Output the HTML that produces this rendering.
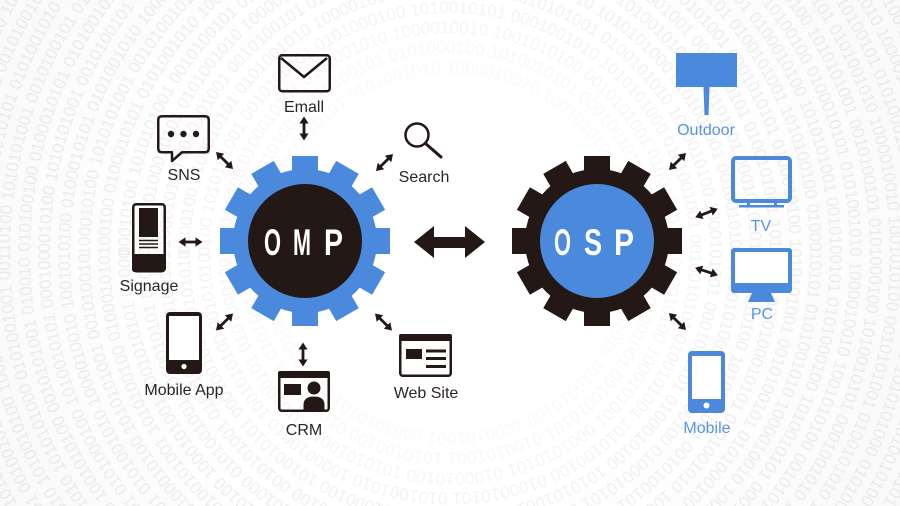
<!DOCTYPE html>
<html><head><meta charset="utf-8">
<style>
html,body{margin:0;padding:0;background:#fff;width:900px;height:506px;overflow:hidden;}
svg{display:block;overflow:hidden;}
.lbl{font-family:"Liberation Sans",sans-serif;font-size:16px;fill:#2b2522;text-anchor:middle;}
.blbl{font-family:"Liberation Sans",sans-serif;font-size:16px;fill:#5a93e3;text-anchor:middle;}
.bin{font-family:"Liberation Sans",sans-serif;font-size:17px;}
.gt{font-family:"Liberation Sans",sans-serif;font-size:37px;font-weight:bold;fill:#fff;}
</style></head>
<body>
<svg width="900" height="506" viewBox="0 0 900 506" xmlns="http://www.w3.org/2000/svg">
<defs>
<radialGradient id="bg" cx="450" cy="245" r="520" gradientUnits="userSpaceOnUse">
<stop offset="0" stop-color="#ffffff"/><stop offset="0.5" stop-color="#ffffff"/><stop offset="1" stop-color="#f9f9f9"/>
</radialGradient>
<polygon id="dbl" points="-12,0 -5,-4.6 -5,-1.4 5,-1.4 5,-4.6 12,0 5,4.6 5,1.4 -5,1.4 -5,4.6" fill="#231815"/>
<path id="c0" d="M270,253 a180,180 0 1,1 360,0 a180,180 0 1,1 -360,0"/>
<path id="c1" d="M250,253 a200,200 0 1,1 400,0 a200,200 0 1,1 -400,0"/>
<path id="c2" d="M230,253 a220,220 0 1,1 440,0 a220,220 0 1,1 -440,0"/>
<path id="c3" d="M210,253 a240,240 0 1,1 480,0 a240,240 0 1,1 -480,0"/>
<path id="c4" d="M190,253 a260,260 0 1,1 520,0 a260,260 0 1,1 -520,0"/>
<path id="c5" d="M170,253 a280,280 0 1,1 560,0 a280,280 0 1,1 -560,0"/>
<path id="c6" d="M150,253 a300,300 0 1,1 600,0 a300,300 0 1,1 -600,0"/>
<path id="c7" d="M130,253 a320,320 0 1,1 640,0 a320,320 0 1,1 -640,0"/>
<path id="c8" d="M110,253 a340,340 0 1,1 680,0 a340,340 0 1,1 -680,0"/>
<path id="c9" d="M90,253 a360,360 0 1,1 720,0 a360,360 0 1,1 -720,0"/>
<path id="c10" d="M70,253 a380,380 0 1,1 760,0 a380,380 0 1,1 -760,0"/>
<path id="c11" d="M50,253 a400,400 0 1,1 800,0 a400,400 0 1,1 -800,0"/>
<path id="c12" d="M30,253 a420,420 0 1,1 840,0 a420,420 0 1,1 -840,0"/>
<path id="c13" d="M10,253 a440,440 0 1,1 880,0 a440,440 0 1,1 -880,0"/>
<path id="c14" d="M-10,253 a460,460 0 1,1 920,0 a460,460 0 1,1 -920,0"/>
<path id="c15" d="M-30,253 a480,480 0 1,1 960,0 a480,480 0 1,1 -960,0"/>
<path id="c16" d="M-50,253 a500,500 0 1,1 1000,0 a500,500 0 1,1 -1000,0"/>
<path id="c17" d="M-70,253 a520,520 0 1,1 1040,0 a520,520 0 1,1 -1040,0"/>
<path id="c18" d="M-90,253 a540,540 0 1,1 1080,0 a540,540 0 1,1 -1080,0"/>
<pattern id="rings" patternUnits="userSpaceOnUse" x="0" y="0" width="900" height="506">
<rect x="0" y="0" width="900" height="506" fill="url(#bg)"/>
<g class="bin">
<text fill="#fafafa"><textPath href="#c0" startOffset="-20">1010100100 0100010101 0101001010 1000010010 1001010100 0010101001 0100101010 1010010100 1000101001 0001010101 0100010100 1010101001 0010100101 0101000100 1010010101 0001001010 1010101000 0101001001</textPath></text>
<text fill="#f8f8f8"><textPath href="#c1" startOffset="-45">0100010100 1010101001 0010100101 0101000100 1010010101 0001001010 1010101000 0101001001 0010010101 0100101001 1010100100 0100010101 0101001010 1000010010 1001010100 0010101001 0100101010 1010010100 1000101001 0001010101</textPath></text>
<text fill="#f6f6f6"><textPath href="#c2" startOffset="-10">1010100100 0100010101 0101001010 1000010010 1001010100 0010101001 0100101010 1010010100 1000101001 0001010101 0100010100 1010101001 0010100101 0101000100 1010010101 0001001010 1010101000 0101001001 0010010101 0100101001 1010100100 0100010101</textPath></text>
<text fill="#f4f4f4"><textPath href="#c3" startOffset="-60">0100010100 1010101001 0010100101 0101000100 1010010101 0001001010 1010101000 0101001001 0010010101 0100101001 1010100100 0100010101 0101001010 1000010010 1001010100 0010101001 0100101010 1010010100 1000101001 0001010101 0100010100 1010101001 0010100101 0101000100</textPath></text>
<text fill="#f2f2f2"><textPath href="#c4" startOffset="-30">1010100100 0100010101 0101001010 1000010010 1001010100 0010101001 0100101010 1010010100 1000101001 0001010101 0100010100 1010101001 0010100101 0101000100 1010010101 0001001010 1010101000 0101001001 0010010101 0100101001 1010100100 0100010101 0101001010 1000010010 1001010100 0010101001</textPath></text>
<text fill="#f1f1f1"><textPath href="#c5" startOffset="-5">0100010100 1010101001 0010100101 0101000100 1010010101 0001001010 1010101000 0101001001 0010010101 0100101001 1010100100 0100010101 0101001010 1000010010 1001010100 0010101001 0100101010 1010010100 1000101001 0001010101 0100010100 1010101001 0010100101 0101000100 1010010101 0001001010 1010101000 0101001001</textPath></text>
<text fill="#f0f0f0"><textPath href="#c6" startOffset="-50">1010100100 0100010101 0101001010 1000010010 1001010100 0010101001 0100101010 1010010100 1000101001 0001010101 0100010100 1010101001 0010100101 0101000100 1010010101 0001001010 1010101000 0101001001 0010010101 0100101001 1010100100 0100010101 0101001010 1000010010 1001010100 0010101001 0100101010 1010010100 1000101001 0001010101</textPath></text>
<text fill="#efefef"><textPath href="#c7" startOffset="-22">0100010100 1010101001 0010100101 0101000100 1010010101 0001001010 1010101000 0101001001 0010010101 0100101001 1010100100 0100010101 0101001010 1000010010 1001010100 0010101001 0100101010 1010010100 1000101001 0001010101 0100010100 1010101001 0010100101 0101000100 1010010101 0001001010 1010101000 0101001001 0010010101 0100101001 1010100100 0100010101</textPath></text>
<text fill="#eeeeee"><textPath href="#c8" startOffset="-40">1010100100 0100010101 0101001010 1000010010 1001010100 0010101001 0100101010 1010010100 1000101001 0001010101 0100010100 1010101001 0010100101 0101000100 1010010101 0001001010 1010101000 0101001001 0010010101 0100101001 1010100100 0100010101 0101001010 1000010010 1001010100 0010101001 0100101010 1010010100 1000101001 0001010101 0100010100 1010101001 0010100101 0101000100</textPath></text>
<text fill="#ededed"><textPath href="#c9" startOffset="-12">0100010100 1010101001 0010100101 0101000100 1010010101 0001001010 1010101000 0101001001 0010010101 0100101001 1010100100 0100010101 0101001010 1000010010 1001010100 0010101001 0100101010 1010010100 1000101001 0001010101 0100010100 1010101001 0010100101 0101000100 1010010101 0001001010 1010101000 0101001001 0010010101 0100101001 1010100100 0100010101 0101001010 1000010010 1001010100 0010101001</textPath></text>
<text fill="#ececec"><textPath href="#c10" startOffset="-55">1010100100 0100010101 0101001010 1000010010 1001010100 0010101001 0100101010 1010010100 1000101001 0001010101 0100010100 1010101001 0010100101 0101000100 1010010101 0001001010 1010101000 0101001001 0010010101 0100101001 1010100100 0100010101 0101001010 1000010010 1001010100 0010101001 0100101010 1010010100 1000101001 0001010101 0100010100 1010101001 0010100101 0101000100 1010010101 0001001010 1010101000 0101001001</textPath></text>
<text fill="#ececec"><textPath href="#c11" startOffset="-28">0100010100 1010101001 0010100101 0101000100 1010010101 0001001010 1010101000 0101001001 0010010101 0100101001 1010100100 0100010101 0101001010 1000010010 1001010100 0010101001 0100101010 1010010100 1000101001 0001010101 0100010100 1010101001 0010100101 0101000100 1010010101 0001001010 1010101000 0101001001 0010010101 0100101001 1010100100 0100010101 0101001010 1000010010 1001010100 0010101001 0100101010 1010010100 1000101001 0001010101</textPath></text>
<text fill="#ebebeb"><textPath href="#c12" startOffset="-8">1010100100 0100010101 0101001010 1000010010 1001010100 0010101001 0100101010 1010010100 1000101001 0001010101 0100010100 1010101001 0010100101 0101000100 1010010101 0001001010 1010101000 0101001001 0010010101 0100101001 1010100100 0100010101 0101001010 1000010010 1001010100 0010101001 0100101010 1010010100 1000101001 0001010101 0100010100 1010101001 0010100101 0101000100 1010010101 0001001010 1010101000 0101001001 0010010101 0100101001 1010100100 0100010101</textPath></text>
<text fill="#ebebeb"><textPath href="#c13" startOffset="-47">0100010100 1010101001 0010100101 0101000100 1010010101 0001001010 1010101000 0101001001 0010010101 0100101001 1010100100 0100010101 0101001010 1000010010 1001010100 0010101001 0100101010 1010010100 1000101001 0001010101 0100010100 1010101001 0010100101 0101000100 1010010101 0001001010 1010101000 0101001001 0010010101 0100101001 1010100100 0100010101 0101001010 1000010010 1001010100 0010101001 0100101010 1010010100 1000101001 0001010101 0100010100 1010101001 0010100101 0101000100</textPath></text>
<text fill="#eaeaea"><textPath href="#c14" startOffset="-33">1010100100 0100010101 0101001010 1000010010 1001010100 0010101001 0100101010 1010010100 1000101001 0001010101 0100010100 1010101001 0010100101 0101000100 1010010101 0001001010 1010101000 0101001001 0010010101 0100101001 1010100100 0100010101 0101001010 1000010010 1001010100 0010101001 0100101010 1010010100 1000101001 0001010101 0100010100 1010101001 0010100101 0101000100 1010010101 0001001010 1010101000 0101001001 0010010101 0100101001 1010100100 0100010101 0101001010 1000010010 1001010100 0010101001</textPath></text>
<text fill="#eaeaea"><textPath href="#c15" startOffset="-15">0100010100 1010101001 0010100101 0101000100 1010010101 0001001010 1010101000 0101001001 0010010101 0100101001 1010100100 0100010101 0101001010 1000010010 1001010100 0010101001 0100101010 1010010100 1000101001 0001010101 0100010100 1010101001 0010100101 0101000100 1010010101 0001001010 1010101000 0101001001 0010010101 0100101001 1010100100 0100010101 0101001010 1000010010 1001010100 0010101001 0100101010 1010010100 1000101001 0001010101 0100010100 1010101001 0010100101 0101000100 1010010101 0001001010 1010101000 0101001001</textPath></text>
<text fill="#e9e9e9"><textPath href="#c16" startOffset="-52">1010100100 0100010101 0101001010 1000010010 1001010100 0010101001 0100101010 1010010100 1000101001 0001010101 0100010100 1010101001 0010100101 0101000100 1010010101 0001001010 1010101000 0101001001 0010010101 0100101001 1010100100 0100010101 0101001010 1000010010 1001010100 0010101001 0100101010 1010010100 1000101001 0001010101 0100010100 1010101001 0010100101 0101000100 1010010101 0001001010 1010101000 0101001001 0010010101 0100101001 1010100100 0100010101 0101001010 1000010010 1001010100 0010101001 0100101010 1010010100 1000101001 0001010101</textPath></text>
<text fill="#e9e9e9"><textPath href="#c17" startOffset="-26">0100010100 1010101001 0010100101 0101000100 1010010101 0001001010 1010101000 0101001001 0010010101 0100101001 1010100100 0100010101 0101001010 1000010010 1001010100 0010101001 0100101010 1010010100 1000101001 0001010101 0100010100 1010101001 0010100101 0101000100 1010010101 0001001010 1010101000 0101001001 0010010101 0100101001 1010100100 0100010101 0101001010 1000010010 1001010100 0010101001 0100101010 1010010100 1000101001 0001010101 0100010100 1010101001 0010100101 0101000100 1010010101 0001001010 1010101000 0101001001 0010010101 0100101001 1010100100 0100010101</textPath></text>
<text fill="#e8e8e8"><textPath href="#c18" startOffset="-6">1010100100 0100010101 0101001010 1000010010 1001010100 0010101001 0100101010 1010010100 1000101001 0001010101 0100010100 1010101001 0010100101 0101000100 1010010101 0001001010 1010101000 0101001001 0010010101 0100101001 1010100100 0100010101 0101001010 1000010010 1001010100 0010101001 0100101010 1010010100 1000101001 0001010101 0100010100 1010101001 0010100101 0101000100 1010010101 0001001010 1010101000 0101001001 0010010101 0100101001 1010100100 0100010101 0101001010 1000010010 1001010100 0010101001 0100101010 1010010100 1000101001 0001010101 0100010100 1010101001 0010100101 0101000100</textPath></text>
</g>
</pattern>
</defs>

<rect x="0" y="0" width="900" height="506" fill="url(#rings)"/>

<!-- OMP gear -->
<g transform="translate(305,241)" fill="#4a89dc">
<circle r="72"/>
<rect x="-13" y="-85" width="26" height="25"/>
<rect x="-13" y="-85" width="26" height="25" transform="rotate(30)"/>
<rect x="-13" y="-85" width="26" height="25" transform="rotate(60)"/>
<rect x="-13" y="-85" width="26" height="25" transform="rotate(90)"/>
<rect x="-13" y="-85" width="26" height="25" transform="rotate(120)"/>
<rect x="-13" y="-85" width="26" height="25" transform="rotate(150)"/>
<rect x="-13" y="-85" width="26" height="25" transform="rotate(180)"/>
<rect x="-13" y="-85" width="26" height="25" transform="rotate(210)"/>
<rect x="-13" y="-85" width="26" height="25" transform="rotate(240)"/>
<rect x="-13" y="-85" width="26" height="25" transform="rotate(270)"/>
<rect x="-13" y="-85" width="26" height="25" transform="rotate(300)"/>
<rect x="-13" y="-85" width="26" height="25" transform="rotate(330)"/>
<circle r="57" fill="#231815"/>
</g>
<text class="gt" x="264" y="255" textLength="17" lengthAdjust="spacingAndGlyphs">O</text>
<text class="gt" x="293" y="255" textLength="18" lengthAdjust="spacingAndGlyphs">M</text>
<text class="gt" x="324" y="255" textLength="19" lengthAdjust="spacingAndGlyphs">P</text>

<!-- OSP gear -->
<g transform="translate(597,241)" fill="#231815">
<circle r="72"/>
<rect x="-13" y="-85" width="26" height="25"/>
<rect x="-13" y="-85" width="26" height="25" transform="rotate(30)"/>
<rect x="-13" y="-85" width="26" height="25" transform="rotate(60)"/>
<rect x="-13" y="-85" width="26" height="25" transform="rotate(90)"/>
<rect x="-13" y="-85" width="26" height="25" transform="rotate(120)"/>
<rect x="-13" y="-85" width="26" height="25" transform="rotate(150)"/>
<rect x="-13" y="-85" width="26" height="25" transform="rotate(180)"/>
<rect x="-13" y="-85" width="26" height="25" transform="rotate(210)"/>
<rect x="-13" y="-85" width="26" height="25" transform="rotate(240)"/>
<rect x="-13" y="-85" width="26" height="25" transform="rotate(270)"/>
<rect x="-13" y="-85" width="26" height="25" transform="rotate(300)"/>
<rect x="-13" y="-85" width="26" height="25" transform="rotate(330)"/>
<circle r="57" fill="#4a89dc"/>
</g>
<text class="gt" x="554" y="255" textLength="17" lengthAdjust="spacingAndGlyphs">O</text>
<text class="gt" x="584" y="255" textLength="18" lengthAdjust="spacingAndGlyphs">S</text>
<text class="gt" x="614" y="255" textLength="20" lengthAdjust="spacingAndGlyphs">P</text>

<!-- big double arrow -->
<polygon points="414,242 434,226 434,237 465,237 465,226 485,242 465,258 465,248 434,248 434,258" fill="#231815"/>

<!-- small arrows -->
<use href="#dbl" transform="translate(224.5,160.5) rotate(45)"/>
<use href="#dbl" transform="translate(304,128.5) rotate(90)"/>
<use href="#dbl" transform="translate(384.5,162.5) rotate(-45)"/>
<use href="#dbl" transform="translate(190.5,242)"/>
<use href="#dbl" transform="translate(224.5,322) rotate(-45)"/>
<use href="#dbl" transform="translate(303,354.5) rotate(90)"/>
<use href="#dbl" transform="translate(383.5,322) rotate(45)"/>
<use href="#dbl" transform="translate(677.5,161.5) rotate(-45)"/>
<use href="#dbl" transform="translate(706.5,213) rotate(-21)"/>
<use href="#dbl" transform="translate(706.5,271.5) rotate(18)"/>
<use href="#dbl" transform="translate(677.5,321.5) rotate(45)"/>

<!-- Email -->
<rect x="279.25" y="55.25" width="50.5" height="36" rx="3" fill="none" stroke="#231815" stroke-width="2.5"/>
<polyline points="281,58 304,77 327,58" fill="none" stroke="#231815" stroke-width="2.5" stroke-linejoin="round"/>
<text class="lbl" x="304" y="112">Emall</text>

<!-- SNS -->
<path d="M162,116.25 H205 Q208.75,116.25 208.75,120 V148.5 Q208.75,152.25 205,152.25 H182 L172,161 V152.25 H162 Q158.25,152.25 158.25,148.5 V120 Q158.25,116.25 162,116.25 Z" fill="none" stroke="#231815" stroke-width="2.5" stroke-linejoin="round"/>
<circle cx="171" cy="134" r="3.2" fill="#231815"/>
<circle cx="183.5" cy="134" r="3.2" fill="#231815"/>
<circle cx="196" cy="134" r="3.2" fill="#231815"/>
<text class="lbl" x="184" y="180">SNS</text>

<!-- Search -->
<circle cx="417" cy="135" r="11.5" fill="none" stroke="#231815" stroke-width="2.5"/>
<line x1="425.5" y1="143.5" x2="441" y2="157" stroke="#231815" stroke-width="3" stroke-linecap="round"/>
<text class="lbl" x="424" y="182">Search</text>

<!-- Signage -->
<rect x="133.25" y="204.25" width="31.5" height="67" rx="3" fill="none" stroke="#231815" stroke-width="2.5"/>
<path d="M132,254 H165 V269 Q165,272 162,272 H135 Q132,272 132,269 Z" fill="#231815"/>
<rect x="139" y="208" width="19" height="29" fill="#231815"/>
<line x1="139" y1="240.5" x2="158" y2="240.5" stroke="#231815" stroke-width="1.5"/>
<line x1="139" y1="244" x2="158" y2="244" stroke="#231815" stroke-width="1.5"/>
<line x1="139" y1="247.5" x2="158" y2="247.5" stroke="#231815" stroke-width="1.5"/>
<text class="lbl" x="149" y="291">Signage</text>

<!-- Mobile App -->
<rect x="166" y="312" width="36" height="62" rx="4" fill="#231815"/>
<rect x="169" y="316" width="30" height="44" fill="#fff"/>
<circle cx="184" cy="366.5" r="2.6" fill="#fff"/>
<text class="lbl" x="184" y="395">Mobile App</text>

<!-- CRM -->
<rect x="279.25" y="372.25" width="49.5" height="38.5" rx="2.5" fill="none" stroke="#231815" stroke-width="2.5"/>
<rect x="278" y="371" width="52" height="7" rx="2" fill="#231815"/>
<rect x="284" y="384" width="17" height="11" fill="#231815"/>
<circle cx="314" cy="388" r="6.5" fill="#231815"/>
<path d="M303.5,412 V405 Q303.5,396.5 314,396.5 Q324.5,396.5 324.5,405 V412 Z" fill="#231815"/>
<text class="lbl" x="304" y="435">CRM</text>

<!-- Web Site -->
<rect x="400.25" y="335.25" width="50.5" height="40.5" rx="2.5" fill="none" stroke="#231815" stroke-width="2.5"/>
<rect x="399" y="334" width="53" height="7" rx="2" fill="#231815"/>
<rect x="406" y="349" width="16" height="10" fill="#231815"/>
<rect x="426" y="349.5" width="20" height="3" fill="#231815"/>
<rect x="426" y="357" width="20" height="3" fill="#231815"/>
<rect x="426" y="365" width="20" height="3" fill="#231815"/>
<text class="lbl" x="426" y="398">Web Site</text>

<!-- Outdoor -->
<rect x="676" y="53" width="61" height="34" fill="#4a89dc"/>
<polygon points="703.5,87 709.5,87 708.5,115 704.5,115" fill="#4a89dc"/>
<text class="blbl" x="706" y="135">Outdoor</text>

<!-- TV -->
<rect x="733" y="158" width="57" height="43" rx="3" fill="none" stroke="#4a89dc" stroke-width="4"/>
<rect x="747" y="201" width="3" height="5" fill="#4a89dc"/>
<rect x="774" y="201" width="3" height="5" fill="#4a89dc"/>
<rect x="739" y="205" width="45" height="2.5" fill="#4a89dc"/>
<text class="blbl" x="761" y="231">TV</text>

<!-- PC -->
<rect x="731" y="248" width="61" height="45" rx="3" fill="#4a89dc"/>
<rect x="735" y="252" width="53" height="31" fill="#fff"/>
<polygon points="752,293 771,293 775,302 748,302" fill="#4a89dc"/>
<text class="blbl" x="762" y="319">PC</text>

<!-- Mobile -->
<rect x="688" y="351" width="37" height="62" rx="4" fill="#4a89dc"/>
<rect x="692" y="356" width="29" height="43" fill="#fff"/>
<circle cx="706.5" cy="405.5" r="3" fill="#fff"/>
<text class="blbl" x="707" y="433">Mobile</text>
</svg>
</body></html>
